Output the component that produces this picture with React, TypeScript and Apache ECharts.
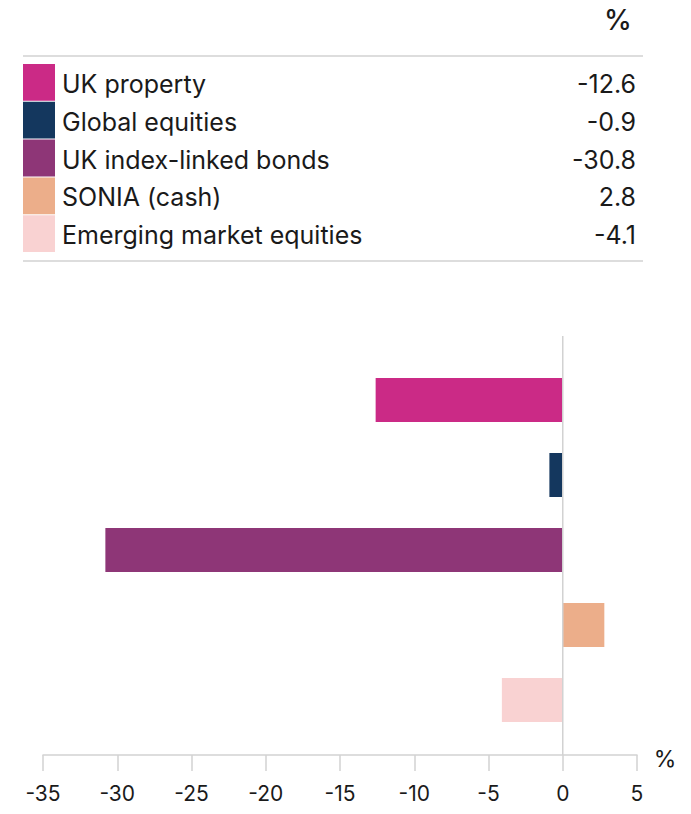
import React, { useEffect, useRef } from "react";
import * as echarts from "echarts";

const categories = [
  "UK property",
  "Global equities",
  "UK index-linked bonds",
  "SONIA (cash)",
  "Emerging market equities",
];
const values = [-12.6, -0.9, -30.8, 2.8, -4.1];
const valueLabels = ["-12.6", "-0.9", "-30.8", "2.8", "-4.1"];
const colors = ["#CB2A86", "#14375E", "#8E3677", "#ECAE8A", "#F9D2D2"];

const FONT = "Inter, 'Open Sans', sans-serif";
const TEXT = "#1a1a1a";
const GRAY = "#d2d2d2";

export default function App() {
  const ref = useRef<HTMLDivElement>(null);
  useEffect(() => {
    if (!ref.current) return;
    const chart = echarts.init(ref.current, null, { renderer: "svg" });

    const rowTop = 64;
    const rowStep = 37.8;
    const tableGraphics: any[] = [];
    tableGraphics.push({
      type: "text",
      x: 618,
      y: 20,
      style: { text: "%", font: `500 28px ${FONT}`, fill: TEXT, align: "center", verticalAlign: "middle" },
    });
    tableGraphics.push({
      type: "line",
      shape: { x1: 23, y1: 56, x2: 643, y2: 56 },
      style: { stroke: GRAY, lineWidth: 1.5 },
    });
    tableGraphics.push({
      type: "line",
      shape: { x1: 23, y1: 261, x2: 643, y2: 261 },
      style: { stroke: GRAY, lineWidth: 1.5 },
    });
    categories.forEach((c, i) => {
      const y = rowTop + i * rowStep;
      tableGraphics.push({
        type: "rect",
        shape: { x: 23, y: y, width: 32, height: rowStep - 1 },
        style: { fill: colors[i] },
      });
      tableGraphics.push({
        type: "text",
        x: 62,
        y: y + rowStep / 2 + 1,
        style: { text: c, font: `25px ${FONT}`, fill: TEXT, verticalAlign: "middle" },
      });
      tableGraphics.push({
        type: "text",
        x: 636,
        y: y + rowStep / 2 + 1,
        style: { text: valueLabels[i], font: `25px ${FONT}`, fill: TEXT, align: "right", verticalAlign: "middle" },
      });
    });

    chart.setOption({
      animation: false,
      grid: { left: 43, right: 54, top: 362.5, bottom: 76.5, containLabel: false },
      xAxis: {
        type: "value",
        min: -35,
        max: 5,
        interval: 5,
        offset: 17.5,
        position: "bottom",
        axisLine: { show: true, lineStyle: { color: GRAY, width: 1.5 } },
        axisTick: { show: true, length: 16, lineStyle: { color: GRAY, width: 1.5 } },
        axisLabel: { margin: 38, fontSize: 21, fontFamily: FONT, color: TEXT, verticalAlign: "middle" },
        splitLine: { show: false },
      },
      yAxis: {
        type: "category",
        data: categories,
        inverse: true,
        axisLine: { show: false },
        axisTick: { show: false },
        axisLabel: { show: false },
      },
      series: [
        {
          type: "bar",
          barWidth: 44,
          data: values.map((v, i) => ({ value: v, itemStyle: { color: colors[i] } })),
        },
      ],
      graphic: tableGraphics,
    });

    const x0 = chart.convertToPixel({ xAxisIndex: 0 }, 0) as number;
    const xMax = chart.convertToPixel({ xAxisIndex: 0 }, 5) as number;
    chart.setOption({
      graphic: [
        ...tableGraphics,
        {
          type: "line",
          z: 10,
          shape: { x1: x0, y1: 336, x2: x0, y2: 755 },
          style: { stroke: GRAY, lineWidth: 1.5 },
        },
        {
          type: "text",
          x: xMax + 28,
          y: 759,
          style: { text: "%", font: `23px ${FONT}`, fill: TEXT, align: "center", verticalAlign: "middle" },
        },
      ],
    });

    return () => chart.dispose();
  }, []);
  return (
    <div
      ref={ref}
      style={{ position: "absolute", left: 0, top: 0, width: 691, height: 814 }}
    />
  );
}
